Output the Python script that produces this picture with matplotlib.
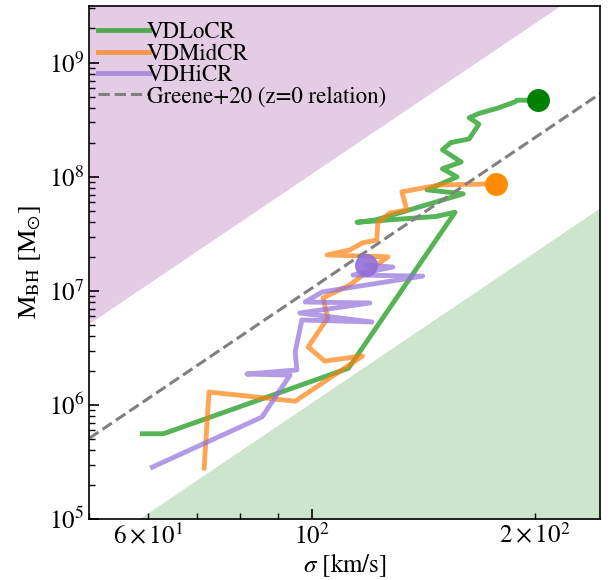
import numpy as np
import matplotlib.pyplot as plt
from matplotlib.ticker import LogLocator, FuncFormatter, NullFormatter

plt.rcParams['font.family'] = 'STIXGeneral'
plt.rcParams['mathtext.fontset'] = 'stix'

# trajectories: sigma [km/s] and M_BH [Msun]
lo_sigma = [59, 63, 112, 156, 147, 115, 122, 160, 143, 157, 150, 159, 150,
            154, 163, 168, 163, 168, 178, 188, 189, 202]
lo_mbh = [5.6e5, 5.6e5, 2.1e6, 4.9e7, 4.5e7, 4.0e7, 4.2e7, 7.1e7, 7.7e7,
          1.0e8, 1.18e8, 1.35e8, 1.73e8, 2.0e8, 2.15e8, 2.9e8, 3.3e8,
          3.6e8, 4.0e8, 4.55e8, 4.7e8, 4.7e8]

mid_sigma = [71.5, 72.6, 94.9, 117, 104, 98.8, 105, 103.5, 112.5, 119.7,
             126.6, 104.8, 112.5, 117, 122.3, 122.7, 127.4, 134.3, 132.2,
             148.8, 177]
mid_mbh = [2.8e5, 1.3e6, 1.08e6, 2.69e6, 2.43e6, 3.23e6, 5.8e6, 8.7e6,
           1.13e7, 1.53e7, 1.99e7, 2.07e7, 2.29e7, 2.64e7, 2.8e7, 3.95e7,
           4.83e7, 5.14e7, 7.4e7, 8.5e7, 8.7e7]

hi_sigma = [60.9, 85.6, 93.4, 81.7, 95.4, 94.9, 96.9, 120.5, 96.3, 119.7,
            97.9, 103.2, 141.1, 113.6, 128.6, 118.2]
hi_mbh = [2.86e5, 7.85e5, 1.83e6, 1.87e6, 2.03e6, 2.92e6, 5.57e6, 5.35e6,
          6.41e6, 7.85e6, 8.0e6, 9.8e6, 1.35e7, 1.38e7, 1.62e7, 1.69e7]

# Greene+20 relation: log M = a + b log(sigma / s0), scatter band +-1 dex
greene_a = 7.92
greene_b = 4.38
greene_s0 = 160.0
band = 1.0

xlim = (50, 245)
ylim = (1e5, 10**9.5)

fig = plt.figure(figsize=(6.1, 5.8), dpi=100)
ax = fig.add_axes([0.146, 0.105, 0.838, 0.885])

s = np.logspace(np.log10(xlim[0]), np.log10(xlim[1]), 200)
rel = 10**(greene_a + greene_b * np.log10(s / greene_s0))
ax.fill_between(s, rel * 10**band, 1e12, color='purple', alpha=0.2, lw=0)
ax.fill_between(s, 1e3, rel / 10**band, color='green', alpha=0.2, lw=0)

ax.plot(lo_sigma, lo_mbh, color='C2', lw=3.5, alpha=0.8, label='VDLoCR')
ax.plot(mid_sigma, mid_mbh, color='C1', lw=3.5, alpha=0.7, label='VDMidCR')
ax.plot(hi_sigma, hi_mbh, color='mediumpurple', lw=3.5, alpha=0.7, label='VDHiCR')
ax.plot(s, rel, color='gray', ls='--', lw=2.2, label='Greene+20 (z=0 relation)')

ax.plot(lo_sigma[-1], lo_mbh[-1], 'o', color='green', ms=15.5, zorder=5)
ax.plot(mid_sigma[-1], mid_mbh[-1], 'o', color='darkorange', ms=15.5, zorder=5)
ax.plot(hi_sigma[-1], hi_mbh[-1], 'o', color='mediumpurple', ms=15.5, alpha=0.9, zorder=5)

ax.set_xscale('log')
ax.set_yscale('log')
ax.set_xlim(*xlim)
ax.set_ylim(*ylim)


def minor_fmt(v, pos):
    if np.isclose(v, 60):
        return r'$6\times10^{1}$'
    if np.isclose(v, 200):
        return r'$2\times10^{2}$'
    return ''


ax.xaxis.set_minor_formatter(FuncFormatter(minor_fmt))
ax.yaxis.set_minor_formatter(NullFormatter())
ax.yaxis.set_major_locator(LogLocator(base=10, numticks=10))
ax.yaxis.set_minor_locator(LogLocator(base=10, subs=np.arange(2, 10), numticks=20))

ax.tick_params(which='both', direction='in', labelsize=18)
ax.tick_params(which='major', length=7, width=1.2)
ax.tick_params(which='minor', length=4, width=1.0)
for sp in ax.spines.values():
    sp.set_linewidth(1.2)

ax.set_xlabel(r'$\sigma$ [km/s]', fontsize=18, labelpad=1)
ax.set_ylabel(r'M$_{\rm BH}$ [M$_{\odot}$]', fontsize=19)

ax.legend(loc='upper left', bbox_to_anchor=(-0.013, 1.0), frameon=False,
          fontsize=16.5, handlelength=2.2, handletextpad=-0.1,
          labelspacing=0.0, borderaxespad=0.2, borderpad=0.5)

fig.savefig('out.png', dpi=100)
